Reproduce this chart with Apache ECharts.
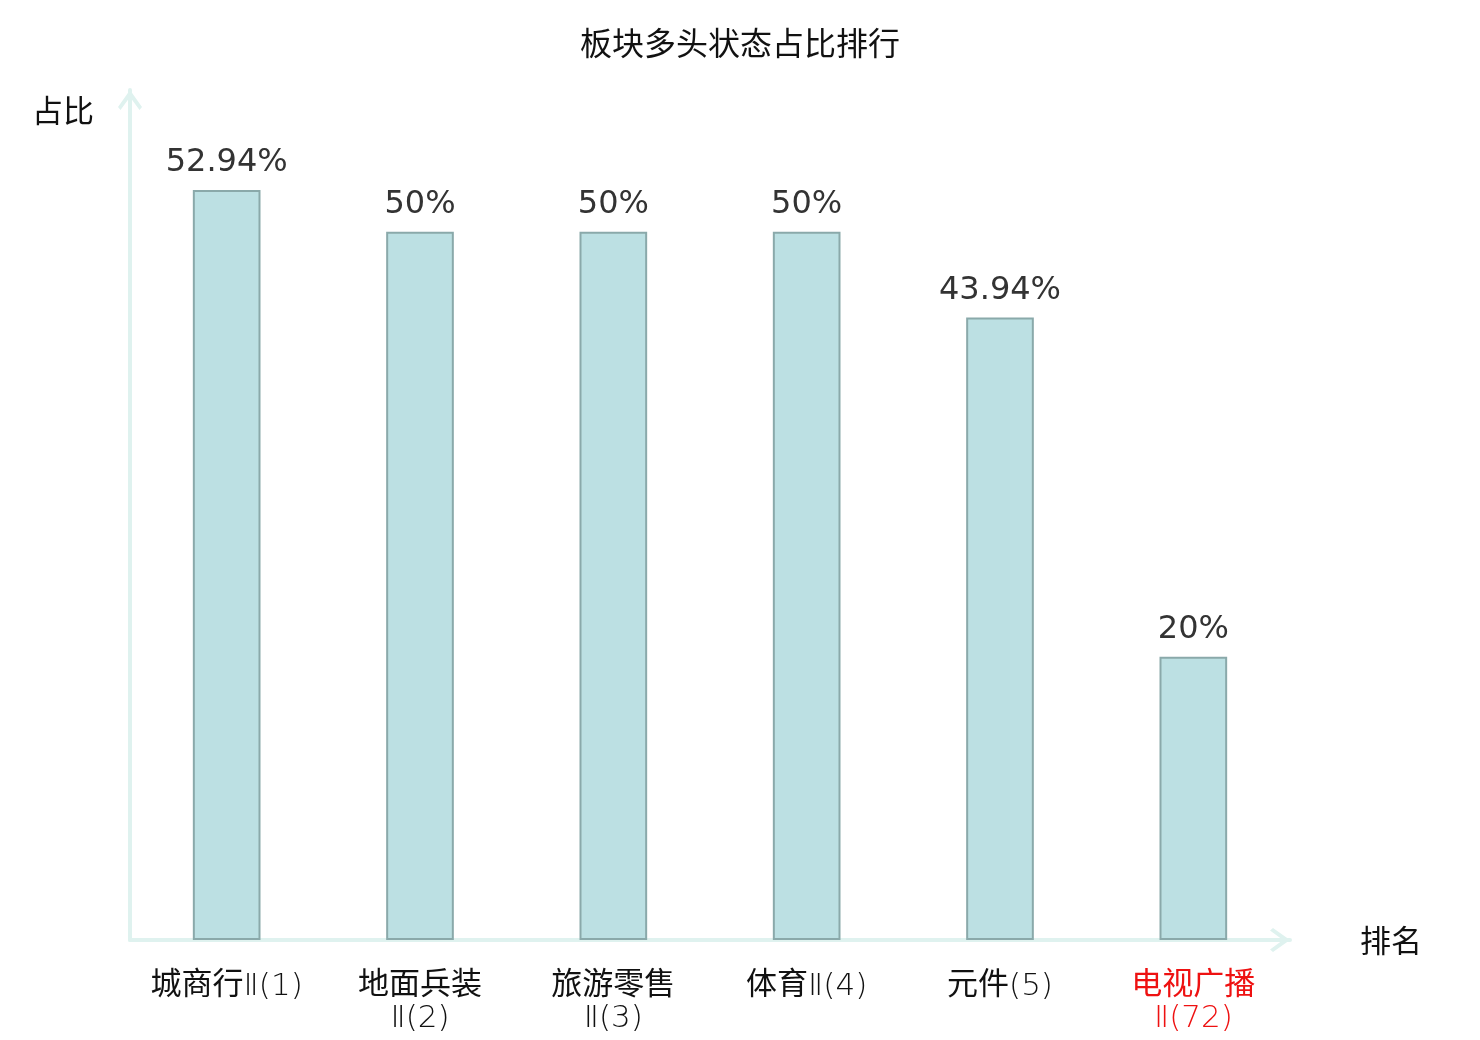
<!DOCTYPE html>
<html lang="zh">
<head>
    <meta charset="UTF-8">
    <title>板块多头状态占比排行</title>
    <script src="https://cdn.jsdelivr.net/npm/echarts@6/dist/echarts.min.js"></script>
    <style>
        html, body { margin: 0; padding: 0; background: #fff; }
        #rankBar { width: 1480px; height: 1040px; }
    </style>
</head>
<body>
<div id="rankBar"></div>
<script type="text/javascript">
    // 板块名称(排名)
    var categories = ['城商行Ⅱ(1)', '地面兵装Ⅱ(2)', '旅游零售Ⅱ(3)', '体育Ⅱ(4)', '元件(5)', '电视广播Ⅱ(72)']
    // 多头状态占比 %
    var ratios = [52.94, 50, 50, 50, 43.94, 20]
    // 需要标红的板块
    var highlightName = '电视广播Ⅱ(72)'

    var rankBar = echarts.init(document.getElementById('rankBar'))

    var axisColor = '#dff2ef'
    var fontCJK = '"Noto Sans CJK SC", "DejaVu Sans", sans-serif'
    // 空心箭头(折线形)
    var chevron = 'path://M12,0 L24,17 L21.5,20 L12,7 L2.5,20 L0,17 Z'

    // 拆成 中文 + 西文 两段, 较长的名称在Ⅱ前换行
    function splitName(value) {
        var m = value.match(/^([^Ⅱ(]+)(.*)$/)
        var head = m ? m[1] : value
        var tail = m ? m[2] : ''
        var sep = (tail.charAt(0) === 'Ⅱ' && head.length >= 4) ? '\n' : ''
        return '{c|' + head + '}' + sep + '{l|' + tail + '}'
    }

    var option = {
        title: {
            text: '板块多头状态占比排行',
            left: 'center',
            top: 22,
            textStyle: {
                fontSize: 32,
                fontWeight: 'normal',
                color: '#111',
                fontFamily: fontCJK
            }
        },
        grid: {
            left: 130,
            right: 190,
            top: 90,
            bottom: 100
        },
        xAxis: {
            type: 'category',
            data: categories,
            name: '排名',
            nameLocation: 'end',
            nameGap: 70,
            nameTextStyle: {
                fontSize: 31,
                color: '#111',
                fontFamily: fontCJK,
                padding: [6, 0, 0, 0]
            },
            axisLine: {
                lineStyle: { color: axisColor, width: 4 },
                symbol: ['none', chevron],
                symbolSize: [24, 20],
                symbolOffset: [0, -10]
            },
            axisTick: { show: false },
            axisLabel: {
                interval: 0,
                margin: 26,
                fontSize: 31,
                lineHeight: 32,
                fontFamily: fontCJK,
                formatter: splitName,
                color: function (value) {
                    return value === highlightName ? '#ee1111' : '#111'
                },
                rich: {
                    c: {
                        fontSize: 31,
                        lineHeight: 32,
                        fontFamily: fontCJK
                    },
                    l: {
                        fontSize: 31,
                        lineHeight: 32,
                        fontWeight: 200,
                        fontFamily: '"DejaVu Sans", sans-serif',
                        padding: [5, 0, -5, 0]
                    }
                }
            }
        },
        yAxis: {
            type: 'value',
            min: 0,
            max: 60,
            name: '占比',
            nameLocation: 'end',
            nameGap: 0,
            nameTextStyle: {
                fontSize: 31,
                color: '#111',
                fontFamily: fontCJK,
                align: 'right',
                verticalAlign: 'top',
                padding: [5, 36, 0, 0]
            },
            axisLine: {
                show: true,
                lineStyle: { color: axisColor, width: 4 },
                symbol: ['none', chevron],
                symbolSize: [24, 20],
                symbolOffset: [0, -10]
            },
            axisTick: { show: false },
            axisLabel: { show: false },
            splitLine: { show: false }
        },
        series: [
            {
                type: 'bar',
                data: ratios,
                barWidth: '35%',
                itemStyle: {
                    color: '#bce0e3',
                    borderColor: '#8aa9aa',
                    borderWidth: 2
                },
                label: {
                    show: true,
                    position: 'top',
                    distance: 11,
                    fontSize: 32,
                    color: '#333',
                    fontFamily: '"DejaVu Sans", sans-serif',
                    formatter: function (p) {
                        return p.value + '%'
                    }
                }
            }
        ]
    }

    rankBar.setOption(option)
</script>
</body>
</html>
